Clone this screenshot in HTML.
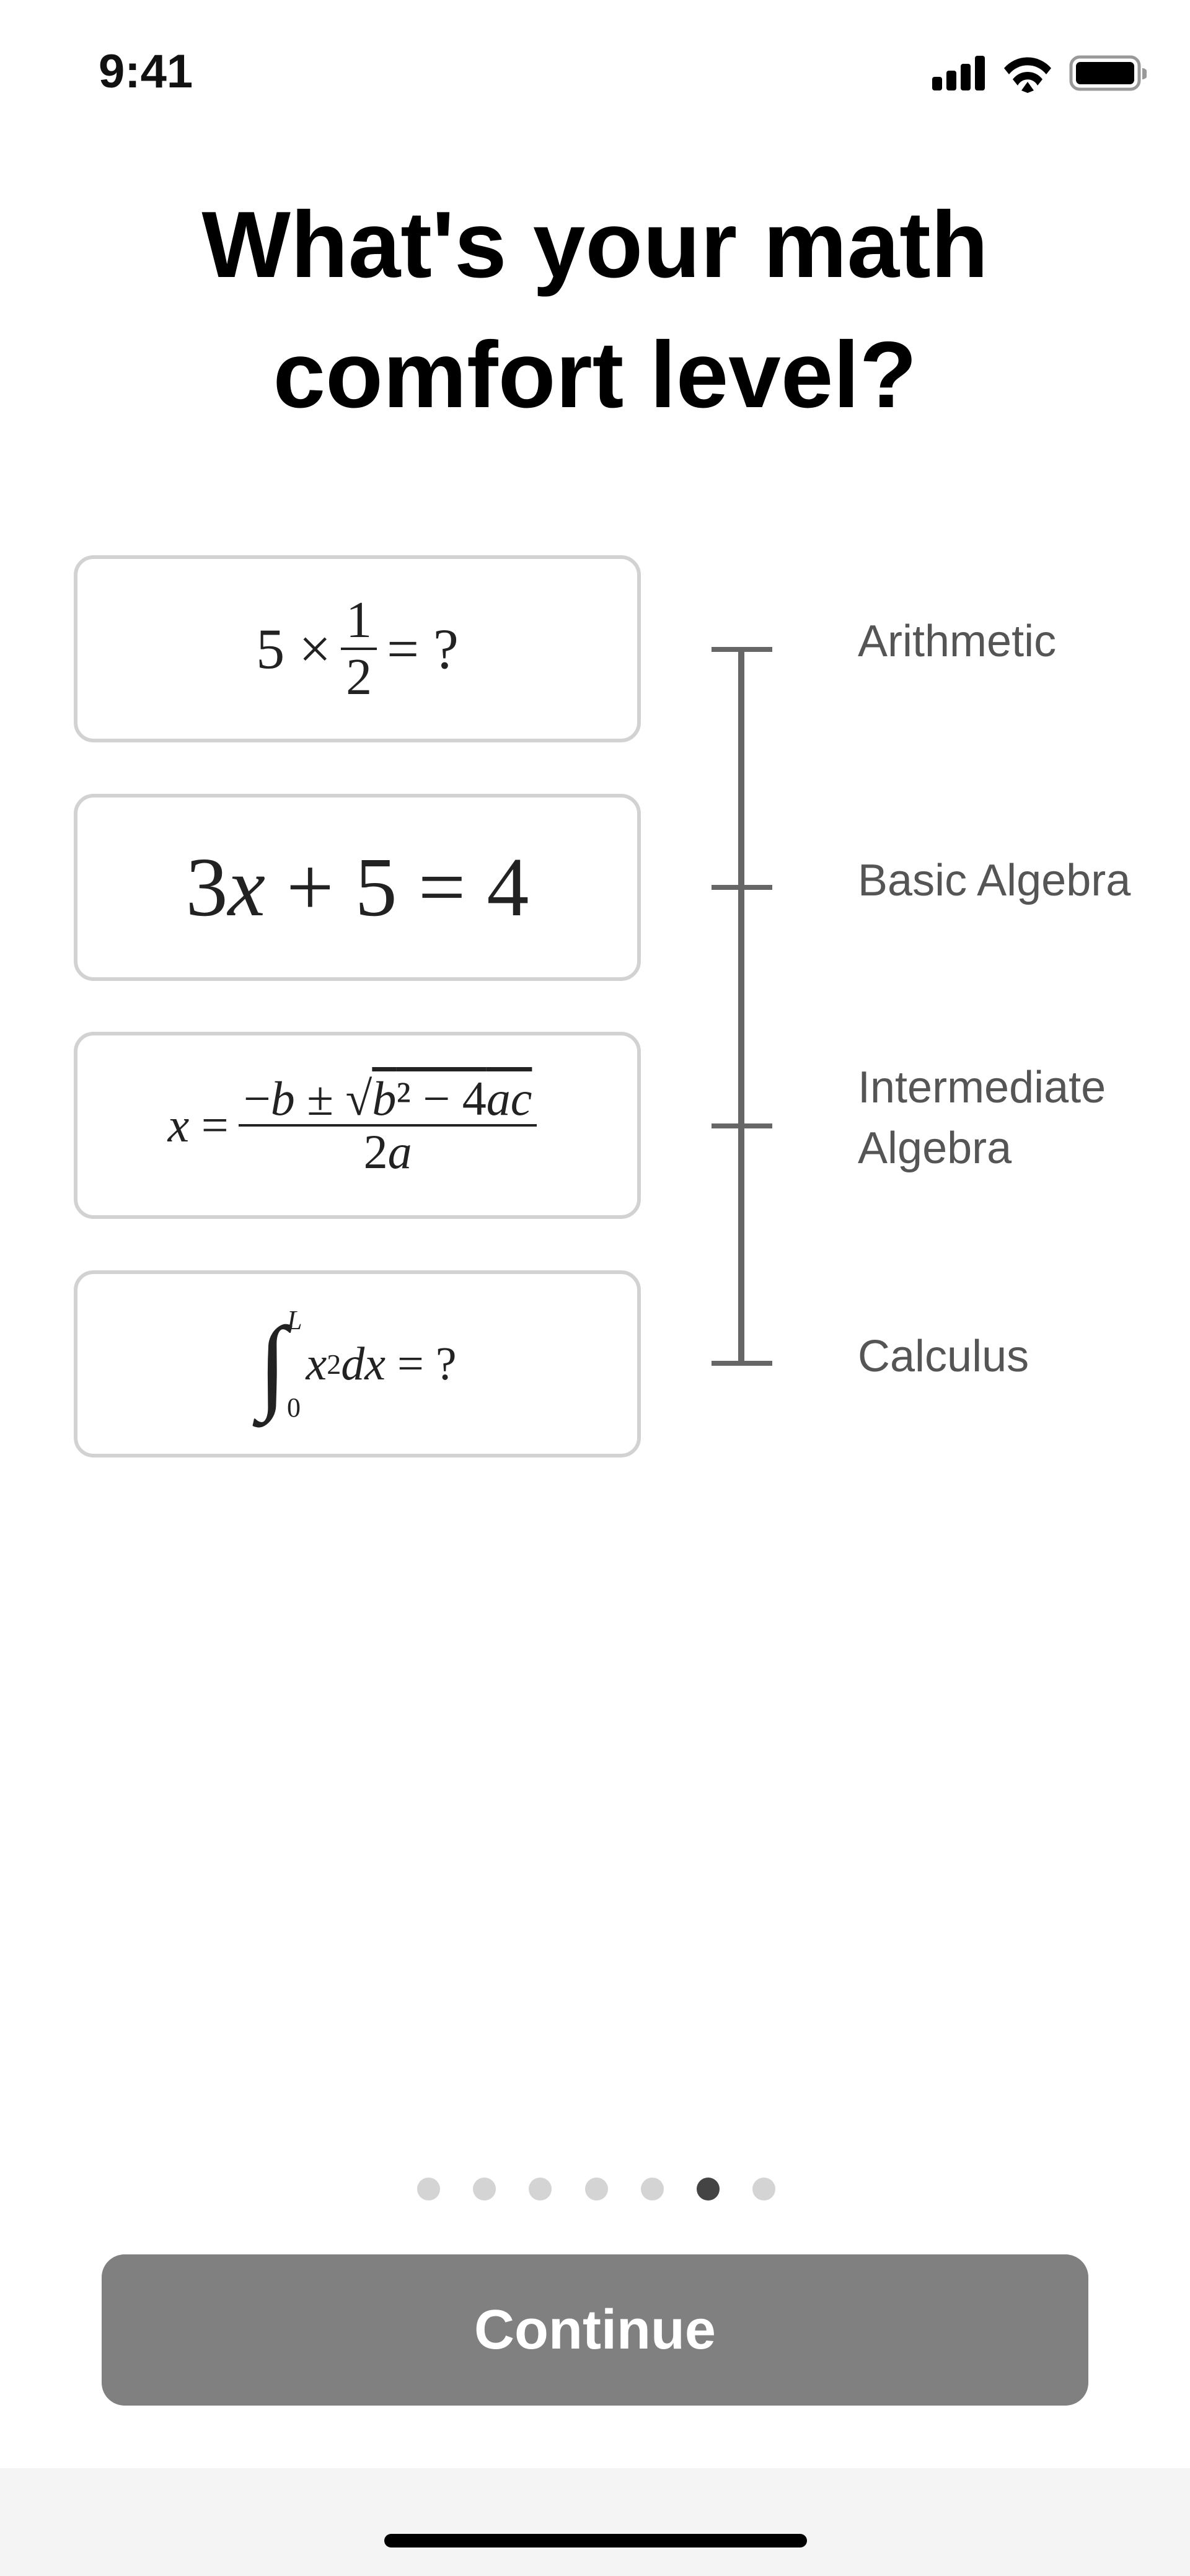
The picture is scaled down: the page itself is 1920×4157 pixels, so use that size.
<!DOCTYPE html>
<html><head><meta charset="utf-8"><style>
html,body{margin:0;padding:0}
body{width:1920px;height:4157px;position:relative;background:#fff;overflow:hidden;font-family:"Liberation Sans",sans-serif}
.a{position:absolute}
.card{position:absolute;left:119px;width:903px;height:290px;border:6px solid #d2d2d2;border-radius:32px;display:flex;align-items:center;justify-content:center;font-family:"Liberation Serif",serif;color:#222}
.lab{position:absolute;left:1384px;font-size:72px;color:#555;line-height:98px}
.tick{position:absolute;left:1148px;width:98px;height:8px;background:#666}
.dot{position:absolute;top:3514px;width:37px;height:37px;border-radius:50%;background:#d4d4d4}
.i{font-style:italic}
.frac{display:inline-flex;flex-direction:column;align-items:center;vertical-align:middle;margin:0 16px}
.frac>span{line-height:1.05}
.frac .n{border-bottom:4px solid #222;padding:0 8px}
</style></head><body>
<div class="a" style="left:159px;top:72px;font-size:76px;font-weight:bold;color:#111">9:41</div>
<svg class="a" style="left:1500px;top:88px" width="350" height="62">
<rect x="4" y="36" width="16" height="22" rx="4"/><rect x="27" y="26" width="16" height="32" rx="4"/><rect x="50" y="15" width="16" height="43" rx="4"/><rect x="73" y="2" width="16" height="56" rx="4"/>
<path d="M120 22 A50 50 0 0 1 196 22 L188 32 A38 38 0 0 0 128 32Z M134 40 A30 30 0 0 1 182 40 L174 50 A18 18 0 0 0 142 50Z M148 58 L158 44 L168 58 L158 62Z" />
<rect x="228" y="4" width="110" height="52" rx="14" fill="none" stroke="#999" stroke-width="5"/><rect x="236" y="12" width="94" height="36" rx="7"/><path d="M343 22 a8 8 0 0 1 0 18z" fill="#999"/>
</svg>
<div class="a" style="left:0;width:1920px;top:290px;text-align:center;font-size:152px;font-weight:bold;line-height:210px;color:#000">What's your math<br>comfort level?</div>

<div class="card" style="top:896px;font-size:92px">5&nbsp;×<span class="frac" style="font-size:84px"><span class="n">1</span><span>2</span></span>=&nbsp;?</div>
<div class="card" style="top:1281px;font-size:136px">3<span class="i">x</span>&nbsp;+&nbsp;5&nbsp;=&nbsp;4</div>
<div class="card" style="top:1665px;font-size:78px"><span class="i">x</span>&nbsp;=<span class="frac"><span class="n">−<span class="i">b</span> ± √<span style="text-decoration:overline"><span class="i">b</span>²&nbsp;−&nbsp;4<span class="i">ac</span></span></span><span>2<span class="i">a</span></span></span></div>
<div class="card" style="top:2050px;font-size:76px"><span style="font-size:170px;font-style:italic">∫</span><span style="display:inline-flex;flex-direction:column;font-size:44px;margin-right:6px"><span class="i">L</span><span style="margin-top:90px">0</span></span><span class="i">x</span><sup style="font-size:46px">2</sup><span class="i">dx</span>&nbsp;=&nbsp;?</div>

<div class="a" style="left:1191px;top:1044px;width:10px;height:1160px;background:#666"></div>
<div class="tick" style="top:1044px"></div>
<div class="tick" style="top:1428px"></div>
<div class="tick" style="top:1813px"></div>
<div class="tick" style="top:2196px"></div>
<div class="lab" style="top:986px">Arithmetic</div>
<div class="lab" style="top:1372px">Basic Algebra</div>
<div class="lab" style="top:1706px">Intermediate<br>Algebra</div>
<div class="lab" style="top:2140px">Calculus</div>

<div class="dot" style="left:673px"></div><div class="dot" style="left:763px"></div><div class="dot" style="left:853px"></div><div class="dot" style="left:944px"></div><div class="dot" style="left:1034px"></div><div class="dot" style="left:1124px;background:#444"></div><div class="dot" style="left:1214px"></div>

<div class="a" style="left:164px;top:3638px;width:1592px;height:244px;border-radius:37px;background:#808080;color:#fff;font-size:90px;line-height:244px;text-align:center;font-weight:bold">Continue</div>
<div class="a" style="left:0;top:3983px;width:1920px;height:174px;background:#f4f4f4"></div>
<div class="a" style="left:620px;top:4089px;width:682px;height:22px;border-radius:11px;background:#000"></div>
</body></html>
